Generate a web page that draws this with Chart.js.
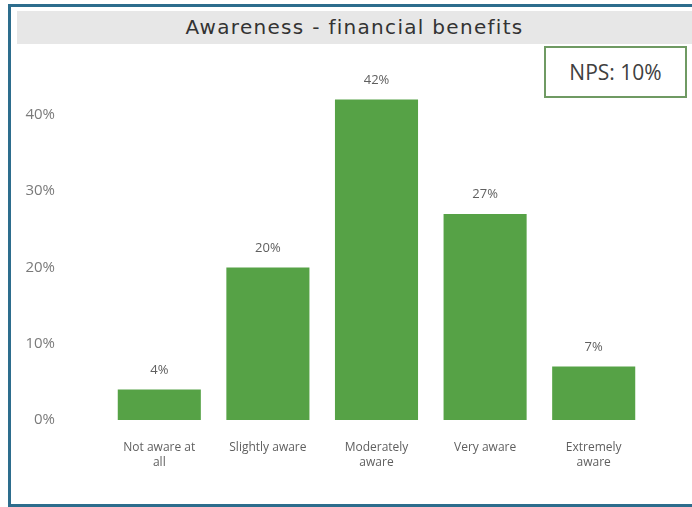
<!DOCTYPE html>
<html>
<head>
<meta charset="utf-8">
<script src="https://cdn.jsdelivr.net/npm/chart.js@4"></script>
<style>
  html, body { margin: 0; padding: 0; background: #fff; }
  body { width: 692px; height: 507px; position: relative; overflow: hidden; }
  #frame {
    position: absolute; left: 8px; top: 4px; width: 684px; height: 503px;
    box-sizing: border-box;
    border-left: 3px solid #2d6d8d; border-top: 3px solid #2d6d8d; border-bottom: 3px solid #2d6d8d;
  }
  #titlebar {
    position: absolute; left: 17px; top: 11px; width: 675px; height: 33px;
    background: #e7e7e7; color: #333;
    font: 20px "DejaVu Sans", sans-serif; letter-spacing: 1.3px;
    line-height: 33px; text-align: center;
  }
  #nps {
    position: absolute; left: 544px; top: 46px; width: 143px; height: 52px;
    box-sizing: border-box; border: 2px solid #6f9a63; background: #fff;
    color: #404040; font: 21px "Open Sans", sans-serif; line-height: 49px; text-align: center;
  }
  #wrap { position: absolute; left: 0; top: 0; width: 692px; height: 507px; }
</style>
</head>
<body>
<div id="frame"></div>
<div id="titlebar">Awareness - financial benefits</div>
<div id="wrap"><canvas id="c" width="692" height="507"></canvas></div>
<div id="nps">NPS: 10%</div>
<script>
// Survey answers: share of respondents per awareness level
const categories = [["Not aware at", "all"], "Slightly aware", ["Moderately", "aware"], "Very aware", ["Extremely", "aware"]];
const shares = [4, 20, 42, 27, 7];
const yTicks = [0, 10, 20, 30, 40];

const barGreen = '#56a246';
const labelGray = '#5f5f5f';

// Percentage written above each bar
const valueLabels = {
  id: 'valueLabels',
  afterDatasetsDraw(chart) {
    const ctx = chart.ctx;
    const meta = chart.getDatasetMeta(0);
    ctx.save();
    ctx.font = '13px "Open Sans", sans-serif';
    ctx.fillStyle = labelGray;
    ctx.textAlign = 'center';
    ctx.textBaseline = 'bottom';
    meta.data.forEach((bar, i) => {
      ctx.fillText(shares[i] + '%', bar.x, bar.y - 13);
    });
    ctx.restore();
  }
};

new Chart(document.getElementById('c'), {
  type: 'bar',
  data: {
    labels: categories,
    datasets: [{
      data: shares,
      backgroundColor: barGreen,
      borderWidth: 0,
      barPercentage: 0.765,
      categoryPercentage: 1
    }]
  },
  options: {
    responsive: false,
    animation: false,
    layout: { padding: { left: 12, right: 44, top: 69, bottom: 0 } },
    plugins: { legend: { display: false }, title: { display: false }, tooltip: { enabled: false } },
    scales: {
      x: {
        grid: { display: false, drawTicks: false },
        border: { display: false },
        ticks: {
          padding: 20,
          color: labelGray,
          font: { family: '"Open Sans", sans-serif', size: 12, lineHeight: 1.25 },
          maxRotation: 0, autoSkip: false
        },
        afterFit(scale) { scale.height = 87; }
      },
      y: {
        min: 0,
        max: 46,
        grid: { display: false, drawTicks: false },
        border: { display: false },
        afterBuildTicks(scale) {
          scale.ticks = yTicks.map(v => ({ value: v }));
        },
        ticks: {
          padding: 50,
          color: '#7a7a7a',
          font: { family: '"Open Sans", sans-serif', size: 15 },
          callback: v => v + '%'
        },
        afterFit(scale) { scale.width = 93; }
      }
    }
  },
  plugins: [valueLabels]
});
</script>
</body>
</html>
